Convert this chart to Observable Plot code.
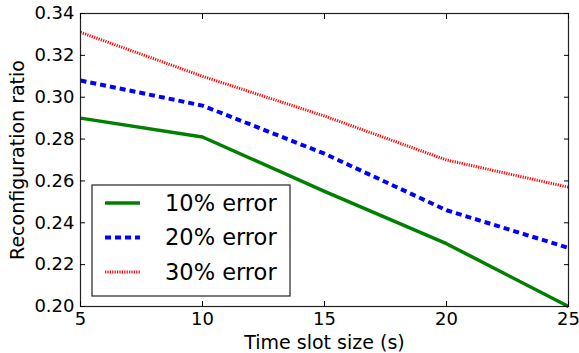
<!DOCTYPE html>
<html><head><meta charset="utf-8">
<script src="https://cdn.jsdelivr.net/npm/d3@7"></script>
<script src="https://cdn.jsdelivr.net/npm/@observablehq/plot@0.6"></script>
<style>body{margin:0;background:#fff}</style>
</head><body><div id="chart"></div>
<script>
const timeSlots = [5, 10, 15, 20, 25];
const seriesNames = ["10% error", "20% error", "30% error"];
const err10 = [0.290, 0.281, 0.255, 0.230, 0.200];
const err20 = [0.308, 0.296, 0.273, 0.246, 0.228];
const err30 = [0.331, 0.310, 0.291, 0.270, 0.257];
const xTicks = [5, 10, 15, 20, 25];
const yTicks = [0.20, 0.22, 0.24, 0.26, 0.28, 0.30, 0.32, 0.34];

const seriesValues = [err10, err20, err30];
const colors = ["#008000", "#0000ff", "#ff0000"];
const dashes = [null, "6,4", "1.2,1.2"];
const widths = [3.5, 4, 3];

const lineMarks = seriesNames.map((name, i) =>
  Plot.line(timeSlots.map((t, j) => ({x: t, y: seriesValues[i][j]})), {
    x: "x", y: "y", stroke: colors[i], strokeWidth: widths[i],
    strokeDasharray: dashes[i], strokeLinecap: "butt", strokeLinejoin: "round"
  })
);

const FS = 18;
const chart = Plot.plot({
  width: 579, height: 353,
  marginLeft: 80, marginRight: 11, marginTop: 13, marginBottom: 47,
  style: {fontFamily: "'DejaVu Sans', sans-serif", fontSize: FS + "px", color: "#000", background: "#fff", overflow: "visible"},
  x: {domain: [5, 25]},
  y: {domain: [0.20, 0.34]},
  marks: [
    ...lineMarks,
    Plot.frame({stroke: "#222", strokeWidth: 1.2}),
    Plot.axisX(xTicks, {anchor: "bottom", tickSize: 0, tickPadding: 6, fontSize: FS, tickFormat: d => String(d), label: null}),
    Plot.axisX(xTicks, {anchor: "bottom", tickSize: 0, tickFormat: () => "", fontSize: 19,
      label: "Time slot size (s)", labelAnchor: "center", labelArrow: "none", labelOffset: 42}),
    Plot.axisX(xTicks, {anchor: "bottom", tickSize: -5, tickFormat: () => "", label: null}),
    Plot.axisX(xTicks, {anchor: "top", tickSize: -5, tickFormat: () => "", label: null}),
    Plot.axisY(yTicks, {anchor: "left", tickSize: 0, tickPadding: 6, fontSize: FS, tickFormat: d3.format(".2f"), label: null}),
    Plot.axisY(yTicks, {anchor: "left", tickSize: 0, tickFormat: () => "", fontSize: 19,
      label: "Reconfiguration ratio", labelAnchor: "center", labelArrow: "none", labelOffset: 70}),
    Plot.axisY(yTicks, {anchor: "left", tickSize: -5, tickFormat: () => "", label: null}),
    Plot.axisY(yTicks, {anchor: "right", tickSize: -5, tickFormat: () => "", label: null})
  ]
});
document.getElementById("chart").appendChild(chart);

// legend inside the plot area (lower left)
const svg = d3.select(chart);
const lg = svg.append("g").attr("class", "legend");
lg.append("rect").attr("x", 92).attr("y", 185).attr("width", 198).attr("height", 111)
  .attr("fill", "#fff").attr("stroke", "#222").attr("stroke-width", 1.2);
seriesNames.forEach((name, i) => {
  const cy = 203 + i * 34.5;
  lg.append("line").attr("x1", 105).attr("x2", 140).attr("y1", cy).attr("y2", cy)
    .attr("stroke", colors[i]).attr("stroke-width", widths[i])
    .attr("stroke-dasharray", dashes[i]);
  lg.append("text").attr("x", 165).attr("y", cy).attr("dy", "0.35em")
    .attr("text-anchor", "start")
    .attr("font-family", "'DejaVu Sans', sans-serif").attr("font-size", 22.5).attr("fill", "#000")
    .text(name);
});
</script>
</body></html>
